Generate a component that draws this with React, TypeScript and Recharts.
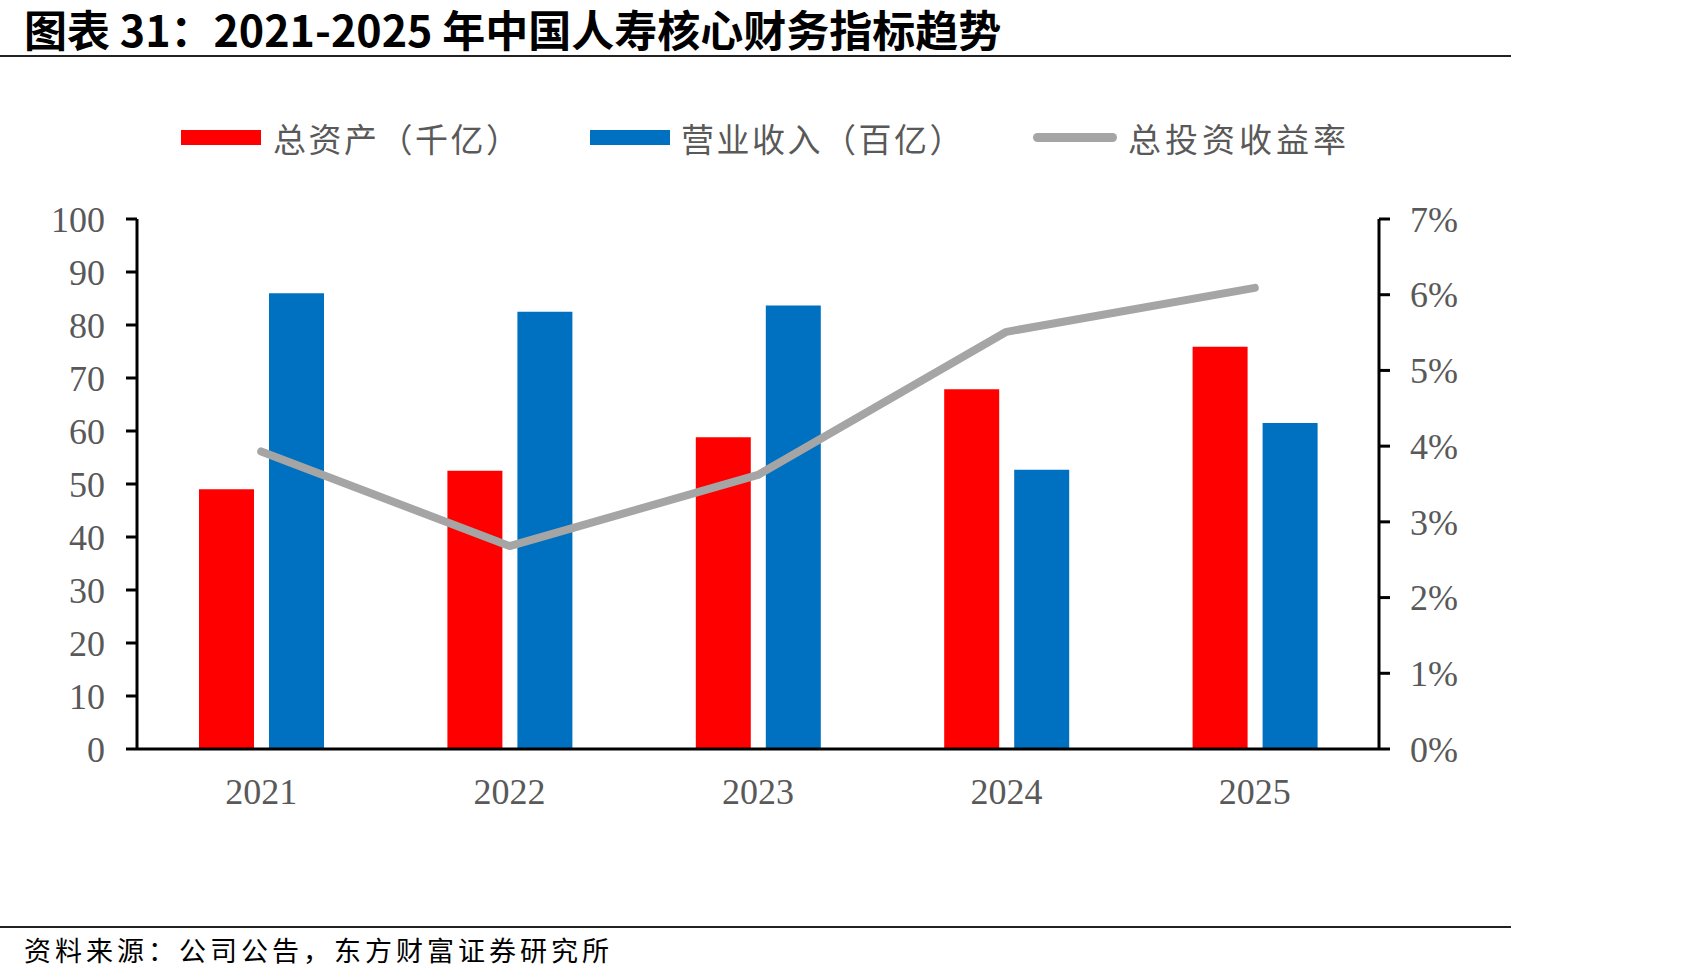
import React from 'react';
import { ComposedChart, Bar, Line, XAxis, YAxis } from 'recharts';

const categories = ['2021', '2022', '2023', '2024', '2025'];
const totalAssets = [49.0, 52.5, 58.8, 67.9, 75.9];
const revenue = [86.0, 82.5, 83.7, 52.7, 61.5];
const investYield = [3.93, 2.68, 3.62, 5.51, 6.09];
const leftTicks = [0, 10, 20, 30, 40, 50, 60, 70, 80, 90, 100];
const rightTicks = [0, 1, 2, 3, 4, 5, 6, 7];

const seriesNames = ['总资产（千亿）', '营业收入（百亿）', '总投资收益率'];
const titleText = '图表 31：2021-2025 年中国人寿核心财务指标趋势';
const sourceText = '资料来源：公司公告，东方财富证券研究所';

const RED = '#FF0000';
const BLUE = '#0070C0';
const GRAY = '#A5A5A5';
const LABEL = '#595959';

const data = categories.map((c, i) => ({
  year: c,
  assets: totalAssets[i],
  revenue: revenue[i],
  yield: investYield[i],
}));

const tickStyle = { fill: LABEL, fontSize: 36, fontFamily: '"Liberation Serif", "Times New Roman", serif' };
const cjk = '"Noto Sans CJK SC", sans-serif';

export default function App() {
  return (
    <div style={{ position: 'absolute', left: 0, top: 0, width: 1701, height: 980, background: '#fff' }}>
      <div style={{ position: 'absolute', left: 24, top: 5, height: 46, fontFamily: cjk, fontWeight: 700, fontSize: 43, lineHeight: '46px', color: '#000', whiteSpace: 'nowrap' }}>
        {titleText}
      </div>
      <div style={{ position: 'absolute', left: 0, top: 55, width: 1511, height: 2, background: '#222' }} />

      {/* legend */}
      <div style={{ position: 'absolute', left: 181, top: 130, width: 80, height: 15, background: RED }} />
      <div style={{ position: 'absolute', left: 273, top: 117, fontFamily: cjk, fontSize: 33, lineHeight: '42px', letterSpacing: 2.5, color: LABEL, whiteSpace: 'nowrap' }}>{seriesNames[0]}</div>
      <div style={{ position: 'absolute', left: 590, top: 130, width: 80, height: 15, background: BLUE }} />
      <div style={{ position: 'absolute', left: 681, top: 117, fontFamily: cjk, fontSize: 33, lineHeight: '42px', letterSpacing: 2.5, color: LABEL, whiteSpace: 'nowrap' }}>{seriesNames[1]}</div>
      <div style={{ position: 'absolute', left: 1033, top: 133, width: 84, height: 9, borderRadius: 5, background: GRAY }} />
      <div style={{ position: 'absolute', left: 1128, top: 117, fontFamily: cjk, fontSize: 33, lineHeight: '42px', letterSpacing: 4, color: LABEL, whiteSpace: 'nowrap' }}>{seriesNames[2]}</div>

      <div style={{ position: 'absolute', left: 0, top: 0 }}>
        <ComposedChart
          width={1701}
          height={980}
          data={data}
          margin={{ top: 219, right: 242, bottom: 171, left: 57 }}
          barGap={15}
        >
          <XAxis
            dataKey="year"
            height={60}
            tick={tickStyle}
            tickLine={false}
            tickSize={0}
            tickMargin={29}
            axisLine={{ stroke: '#000', strokeWidth: 3 }}
          />
          <YAxis
            yAxisId="left"
            orientation="left"
            width={80}
            domain={[0, 100]}
            ticks={leftTicks}
            interval={0}
            tick={tickStyle}
            tickSize={11}
            tickMargin={21}
            tickLine={{ stroke: '#000', strokeWidth: 3 }}
            axisLine={{ stroke: '#000', strokeWidth: 3 }}
          />
          <YAxis
            yAxisId="right"
            orientation="right"
            width={80}
            domain={[0, 7]}
            ticks={rightTicks}
            interval={0}
            tickFormatter={(v: number) => `${v}%`}
            tick={tickStyle}
            tickSize={11}
            tickMargin={20}
            tickLine={{ stroke: '#000', strokeWidth: 3 }}
            axisLine={{ stroke: '#000', strokeWidth: 3 }}
          />
          <Bar yAxisId="left" dataKey="assets" name={seriesNames[0]} fill={RED} barSize={55} isAnimationActive={false} />
          <Bar yAxisId="left" dataKey="revenue" name={seriesNames[1]} fill={BLUE} barSize={55} isAnimationActive={false} />
          <Line
            yAxisId="right"
            dataKey="yield"
            name={seriesNames[2]}
            type="linear"
            stroke={GRAY}
            strokeWidth={8}
            strokeLinecap="round"
            strokeLinejoin="round"
            dot={false}
            activeDot={false}
            isAnimationActive={false}
          />
        </ComposedChart>
      </div>

      <div style={{ position: 'absolute', left: 0, top: 926, width: 1511, height: 2, background: '#222' }} />
      <div style={{ position: 'absolute', left: 24, top: 933, fontFamily: cjk, fontSize: 27, lineHeight: '34px', letterSpacing: 4, color: '#000', whiteSpace: 'nowrap' }}>
        {sourceText}
      </div>
    </div>
  );
}
